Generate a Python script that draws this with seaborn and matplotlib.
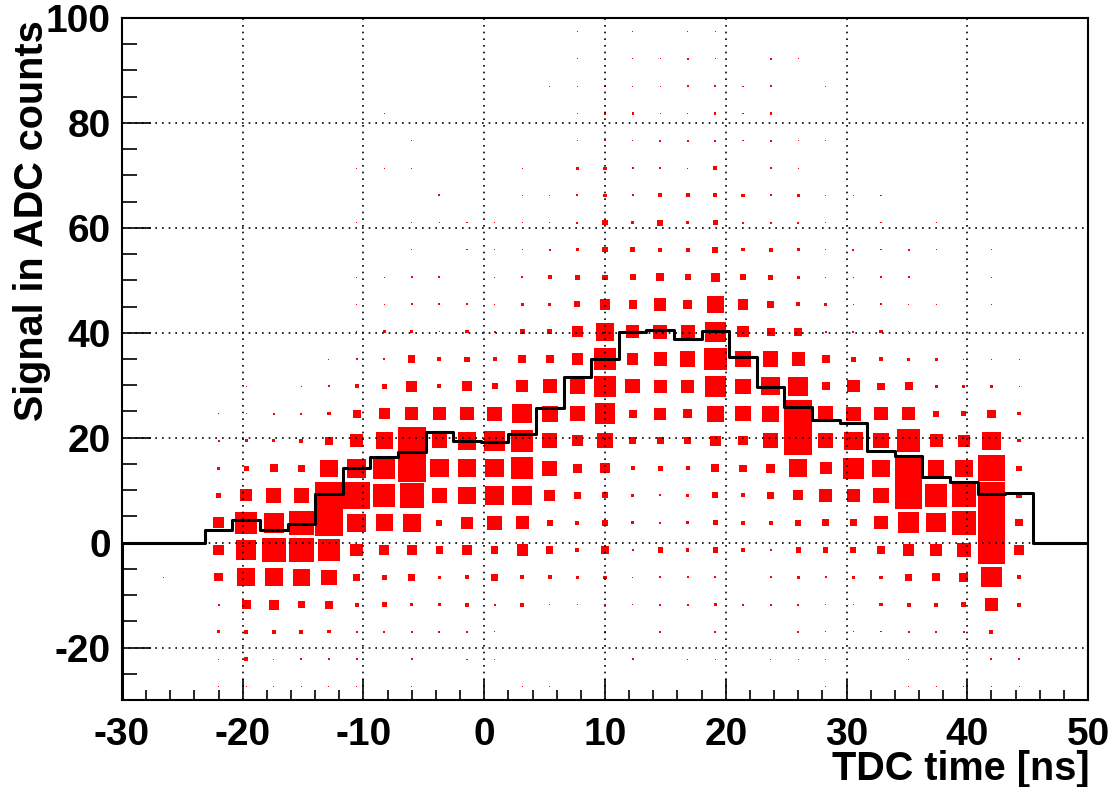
import numpy as np
import matplotlib
matplotlib.use("Agg")
import matplotlib.pyplot as plt
from matplotlib.patches import Rectangle
from matplotlib.collections import PatchCollection
from matplotlib.ticker import MultipleLocator
import seaborn as sns

# Histogram binning: 35 TDC bins over [-30, 50] ns, 25 ADC bins over [-30, 100]
tdc_edges = np.linspace(-30, 50, 36)
adc_edges = np.linspace(-30, 100, 26)

# Bin contents, one list per ADC bin (lowest signal first), 35 TDC bins each
adc_row_00 = [0,0,0,1,1,1,1,1,1,0,1,0,0,0,1,1,0,0,0,0,0,0,0,0,0,1,0,0,1,1,1,1,1,0,0]
adc_row_01 = [0,0,0,1,4,1,2,2,2,0,2,0,1,1,0,0,0,0,2,0,1,1,0,1,1,1,0,0,1,0,1,2,2,0,0]
adc_row_02 = [0,0,0,3,4,4,4,3,2,2,2,2,2,1,0,0,0,2,0,2,0,2,0,0,2,1,1,1,2,2,2,4,0,0,0]
adc_row_03 = [0,0,0,2,9,10,7,8,4,5,3,3,4,2,4,1,1,1,1,2,2,3,2,2,2,1,1,3,4,4,5,12,4,0,0]
adc_row_04 = [0,1,0,8,18,18,17,15,7,5,7,3,4,7,4,4,3,3,1,2,2,2,0,2,3,2,3,3,7,8,9,20,4,0,0]
adc_row_05 = [0,0,0,10,19,24,24,22,12,10,10,7,10,7,11,7,4,7,2,5,3,5,3,2,5,5,6,8,11,12,14,27,9,0,0]
adc_row_06 = [0,0,0,11,22,20,24,27,18,17,18,6,12,14,13,6,4,6,3,2,3,5,4,4,6,7,7,13,21,19,24,27,7,0,0]
adc_row_07 = [0,0,0,5,12,15,14,27,26,22,24,15,17,19,19,11,7,6,3,2,3,6,4,7,10,13,13,15,27,22,23,27,5,0,0]
adc_row_08 = [0,0,0,3,5,8,7,17,19,22,27,18,18,18,22,15,9,10,4,5,4,8,7,9,18,12,21,17,27,16,17,26,5,0,0]
adc_row_09 = [0,0,0,2,3,3,4,8,13,17,27,14,18,20,22,15,11,15,7,7,7,10,9,15,27,15,18,15,23,13,12,18,3,0,0]
adc_row_10 = [0,0,0,1,1,2,2,3,8,11,13,13,13,14,19,16,15,20,8,12,9,16,15,16,27,15,14,13,13,6,5,8,3,0,0]
adc_row_11 = [0,0,0,0,1,0,1,2,4,5,11,4,10,6,12,14,15,21,14,13,13,21,15,18,19,8,12,7,8,3,3,3,1,0,0]
adc_row_12 = [0,0,0,0,0,0,0,1,2,2,7,4,5,4,8,8,11,22,11,13,15,22,16,15,13,8,5,4,3,3,1,1,1,0,0]
adc_row_13 = [0,0,0,0,0,0,0,0,1,3,3,1,3,2,5,5,11,18,13,14,14,20,11,8,8,2,2,3,1,1,0,0,0,0,0]
adc_row_14 = [0,0,0,0,0,0,0,0,1,1,2,2,2,1,3,3,6,10,8,12,9,17,10,7,4,3,1,2,1,1,0,1,0,0,0]
adc_row_15 = [0,0,0,0,0,0,0,0,1,1,2,2,0,1,2,4,5,5,6,8,6,9,6,5,3,1,1,2,2,0,0,1,0,0,0]
adc_row_16 = [0,0,0,0,0,0,0,0,0,0,1,0,1,1,1,2,3,5,5,4,4,6,3,4,3,1,2,1,2,1,0,1,0,0,0]
adc_row_17 = [0,0,0,0,0,0,0,0,1,0,1,1,1,1,1,1,2,5,3,6,3,5,2,2,2,1,0,1,0,1,0,0,0,0,0]
adc_row_18 = [0,0,0,0,0,0,0,0,0,0,0,2,0,0,1,1,2,3,2,4,4,4,3,2,3,1,1,1,0,0,0,0,0,0,0]
adc_row_19 = [0,0,0,0,0,0,0,0,1,1,1,0,0,0,1,0,3,3,2,2,1,4,0,2,1,0,0,0,0,0,0,0,0,0,0]
adc_row_20 = [0,0,0,0,0,0,0,0,0,0,1,0,0,0,0,0,1,1,1,2,2,2,1,2,1,1,0,0,0,0,0,0,0,0,0]
adc_row_21 = [0,0,0,0,0,0,0,0,0,1,0,0,0,0,0,0,1,2,2,1,1,2,1,2,0,0,0,0,0,0,0,0,0,0,0]
adc_row_22 = [0,0,0,0,0,0,0,0,0,0,0,0,0,0,0,1,1,1,1,1,2,2,1,2,0,1,0,0,0,0,0,0,0,0,0]
adc_row_23 = [0,0,0,0,0,0,0,0,0,0,0,0,0,0,0,0,1,0,1,1,2,1,0,2,1,0,0,0,0,0,0,0,0,0,0]
adc_row_24 = [0,0,0,0,0,0,0,0,0,0,0,0,0,0,0,0,1,0,1,0,1,1,0,0,0,0,0,0,0,0,0,0,0,0,0]

# Mean ADC signal per TDC bin (profile)
profile_mean = [0, 0, 0, 2.4, 4.4, 2.5, 3.6, 9.3, 14.3, 16.3, 17.3, 21.0, 19.4,
                19.2, 20.8, 25.6, 31.5, 35.0, 40.1, 40.5, 38.8, 40.3, 35.4, 29.6,
                25.8, 23.3, 22.9, 17.4, 16.6, 12.6, 11.5, 9.2, 9.5, 0, 0]

counts = np.array([adc_row_00, adc_row_01, adc_row_02, adc_row_03, adc_row_04,
                   adc_row_05, adc_row_06, adc_row_07, adc_row_08, adc_row_09,
                   adc_row_10, adc_row_11, adc_row_12, adc_row_13, adc_row_14,
                   adc_row_15, adc_row_16, adc_row_17, adc_row_18, adc_row_19,
                   adc_row_20, adc_row_21, adc_row_22, adc_row_23, adc_row_24],
                  dtype=float)

sns.set_style("white")
plt.rcParams["font.family"] = ["Liberation Sans", "DejaVu Sans"]
plt.rcParams["font.weight"] = "bold"
plt.rcParams["axes.unicode_minus"] = False
for key in ("text.color", "axes.labelcolor", "xtick.color", "ytick.color",
            "axes.edgecolor"):
    plt.rcParams[key] = "black"

fig = plt.figure(figsize=(11.15, 7.87), dpi=100)
ax = fig.add_axes([0.1094, 0.1105, 0.8664, 0.8666])

# Box display: box side proportional to the bin content
dx = np.diff(tdc_edges)[0]
dy = np.diff(adc_edges)[0]
xc = 0.5 * (tdc_edges[:-1] + tdc_edges[1:])
yc = 0.5 * (adc_edges[:-1] + adc_edges[1:])
cmax = counts.max()
boxes = []
for j in range(counts.shape[0]):
    for k in range(counts.shape[1]):
        c = counts[j, k]
        if c <= 0:
            continue
        f = c / cmax
        w, h = dx * f, dy * f
        boxes.append(Rectangle((xc[k] - w / 2, yc[j] - h / 2), w, h))
ax.add_collection(PatchCollection(boxes, facecolor="#ff0000", edgecolor="none",
                                  antialiased=False, zorder=1))

# Profile drawn as a histogram outline, closed down to the axis minimum
ymin, ymax = -30, 100
step_x = [tdc_edges[0]]
step_y = [ymin]
for k, m in enumerate(profile_mean):
    step_x += [tdc_edges[k], tdc_edges[k + 1]]
    step_y += [m, m]
step_x.append(tdc_edges[-1])
step_y.append(ymin)
sns.lineplot(x=step_x, y=step_y, sort=False, estimator=None, color="black",
             linewidth=2.2, ax=ax, zorder=4)

ax.set_xlim(-30, 50)
ax.set_ylim(ymin, ymax)

ax.xaxis.set_major_locator(MultipleLocator(10))
ax.xaxis.set_minor_locator(MultipleLocator(2))
ax.yaxis.set_major_locator(MultipleLocator(20))
ax.yaxis.set_minor_locator(MultipleLocator(5))

ax.grid(True, which="major", color="black", linestyle=(0, (1, 3)), linewidth=1.2)
ax.set_axisbelow(False)

ax.tick_params(which="both", direction="in", bottom=True, left=True,
               top=False, right=False, width=1.2, color="black")
ax.tick_params(labelsize=28)
ax.tick_params(axis="x", which="major", length=15, pad=12)
ax.tick_params(axis="x", which="minor", length=7.5)
ax.tick_params(axis="y", which="major", length=21, pad=8)
ax.tick_params(axis="y", which="minor", length=10.5)
for lab in ax.get_xticklabels() + ax.get_yticklabels():
    lab.set_fontweight("bold")

for sp in ax.spines.values():
    sp.set_linewidth(1.5)
    sp.set_color("black")

ax.set_xlabel("TDC time [ns]", fontsize=28.5, fontweight="bold")
ax.xaxis.label.set_ha("right")
ax.xaxis.label.set_va("baseline")
ax.xaxis.set_label_coords(1.002, -0.117)

ax.set_ylabel("Signal in ADC counts", fontsize=28.5, fontweight="bold")
ax.yaxis.label.set_ha("right")
ax.yaxis.label.set_va("baseline")
ax.yaxis.set_label_coords(-0.0818, 0.997)

fig.savefig("out.png", dpi=100)
